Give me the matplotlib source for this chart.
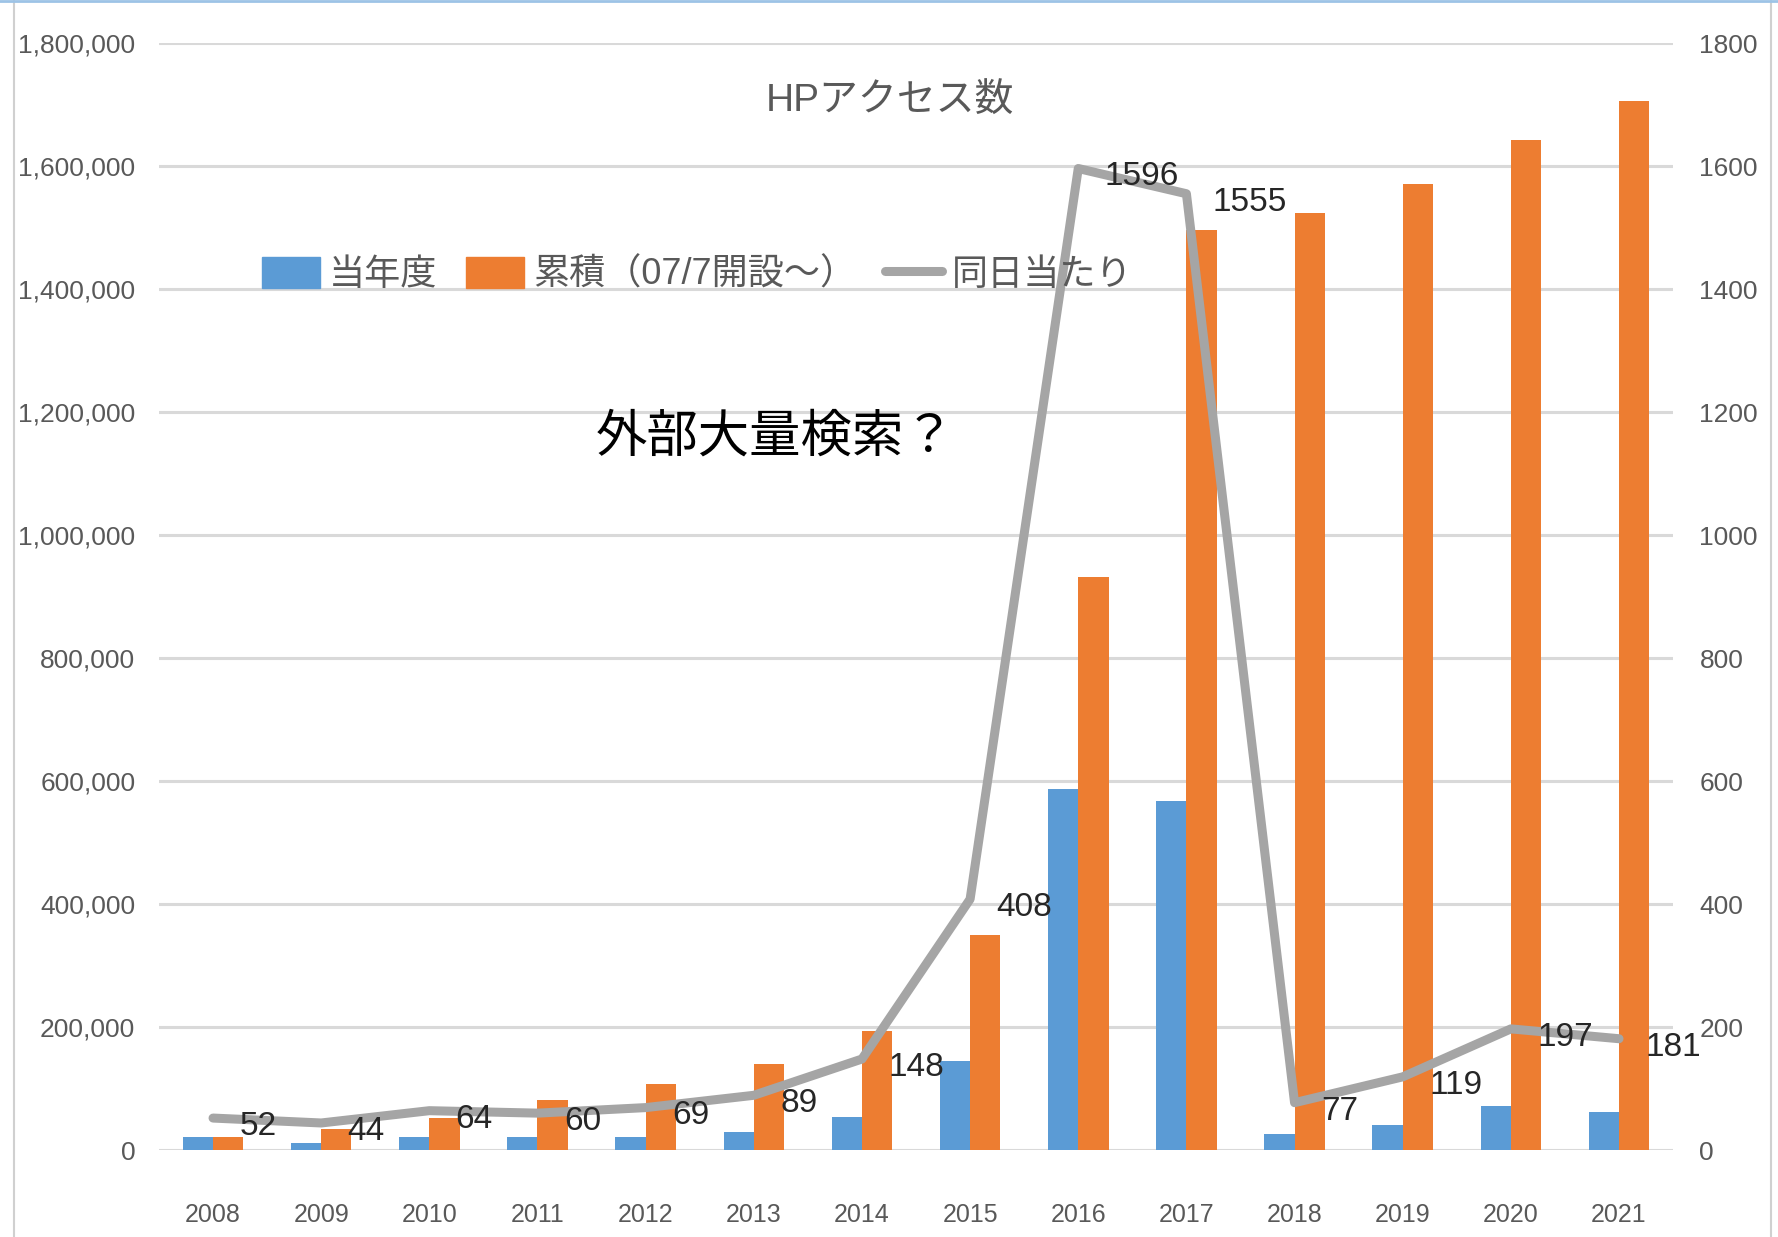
import numpy as np
import matplotlib.pyplot as plt
from matplotlib.lines import Line2D
from matplotlib.patches import Patch

# ----------------------------
# Data
# ----------------------------
years = ["2008", "2009", "2010", "2011", "2012", "2013", "2014",
         "2015", "2016", "2017", "2018", "2019", "2020", "2021"]
this_year = [21000, 12000, 21000, 21000, 21000, 30000, 53000,
             145000, 587000, 568000, 26000, 40000, 71000, 62000]
cumulative = [21000, 34000, 52000, 81000, 108000, 140000, 194000,
              349000, 932000, 1496000, 1524000, 1570000, 1642000, 1705000]
per_day = [52, 44, 64, 60, 69, 89, 148, 408, 1596, 1555, 77, 119, 197, 181]

left_ticks = np.arange(0, 1800001, 200000)
right_ticks = np.arange(0, 1801, 200)

BLUE = "#5B9BD5"
ORANGE = "#ED7D31"
GRAY = "#A5A5A5"
TEXT = "#595959"

plt.rcParams["font.family"] = ["Liberation Sans", "Noto Sans CJK JP", "DejaVu Sans"]

# ----------------------------
# Figure
# ----------------------------
fig = plt.figure(figsize=(17.78, 12.37), dpi=100)
ax = fig.add_axes([0.0894, 0.0703, 0.8516, 0.8949])

x = np.arange(len(years))
w = 0.28
ax.bar(x - w / 2, this_year, w, color=BLUE, zorder=2)
ax.bar(x + w / 2, cumulative, w, color=ORANGE, zorder=2)

ax.set_xlim(-0.5, len(years) - 0.5)
ax.set_ylim(0, 1800000)
ax.set_yticks(left_ticks)
ax.set_yticklabels([f"{v:,}" for v in left_ticks])
ax.set_xticks(x)
ax.set_xticklabels(years)
ax.grid(axis="y", color="#D9D9D9", linewidth=2.2, zorder=0)
ax.set_axisbelow(True)
for s in ax.spines.values():
    s.set_visible(False)
ax.tick_params(axis="y", length=0, pad=17, labelsize=19, labelcolor=TEXT)
ax.tick_params(axis="x", length=0, pad=38, labelsize=18, labelcolor=TEXT)

ax2 = ax.twinx()
ax2.plot(x, per_day, color=GRAY, linewidth=6.5, solid_capstyle="round",
         solid_joinstyle="round", zorder=3)
ax2.set_ylim(0, 1800)
ax2.set_yticks(right_ticks)
for s in ax2.spines.values():
    s.set_visible(False)
ax2.tick_params(axis="y", length=0, pad=19, labelsize=19, labelcolor=TEXT)

for xi, v in zip(x, per_day):
    ax2.annotate(str(v), (xi, v), xytext=(19, -6), textcoords="offset points",
                 ha="left", va="center", fontsize=24, color="#262626")

# title
fig.text(0.5006, 0.918, "HPアクセス数", ha="center", va="center",
         fontsize=28, color=TEXT)

# legend
handles = [Patch(color=BLUE), Patch(color=ORANGE),
           Line2D([], [], color=GRAY, linewidth=6.5, solid_capstyle="round")]
labels = ["当年度", "累積（07/7開設～）", "同日当たり"]
fig.legend(handles, labels, loc="center", bbox_to_anchor=(0.392, 0.778),
           ncol=3, frameon=False, fontsize=26, handlelength=1.6,
           handleheight=0.95, handletextpad=0.25, columnspacing=0.8,
           borderpad=0, labelcolor=TEXT)

# note
fig.text(0.436, 0.647, "外部大量検索？", ha="center", va="center",
         fontsize=37, color="black", family=["Noto Sans CJK JP", "DejaVu Sans"])

# chart frame
fig.add_artist(Line2D([0.008, 0.008], [0, 1], color="#D0D0D0", linewidth=1.5))
fig.add_artist(Line2D([0.996, 0.996], [0, 1], color="#D0D0D0", linewidth=1.5))
fig.add_artist(Line2D([0, 1], [0.999, 0.999], color="#9DC3E6", linewidth=2))

fig.savefig("out.png", dpi=100)
